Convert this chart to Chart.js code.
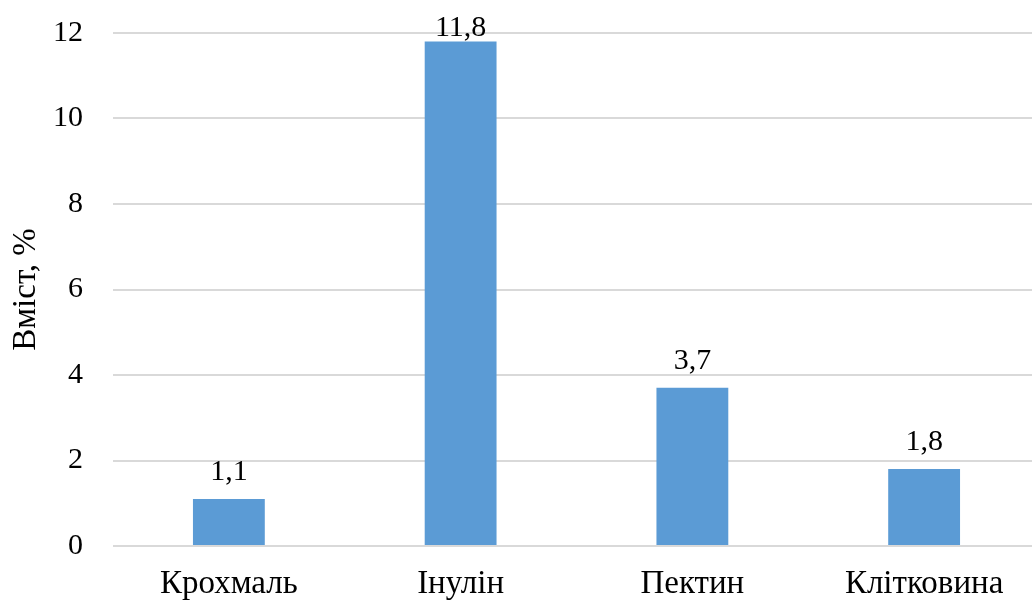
<!DOCTYPE html>
<html lang="uk">
<head>
<meta charset="utf-8">
<title>Вміст, %</title>
<script src="https://cdn.jsdelivr.net/npm/chart.js@4/dist/chart.umd.min.js"></script>
<style>
  html, body { margin: 0; padding: 0; background: #fff; overflow: hidden; }
  #wrap { position: relative; width: 1040px; height: 620px; }
</style>
</head>
<body>
<div id="wrap"><canvas id="chart" width="1040" height="620"></canvas></div>
<script>
// Carbohydrate content, %
const categories = ['Крохмаль', 'Інулін', 'Пектин', 'Клітковина'];
const values = [1.1, 11.8, 3.7, 1.8];
const yTicks = [0, 2, 4, 6, 8, 10, 12];
const yTitle = 'Вміст, %';

const FONT = '"Liberation Serif", "Times New Roman", serif';

// Value labels above each bar, with a decimal comma
const valueLabels = {
  id: 'valueLabels',
  afterDatasetsDraw(chart) {
    const ctx = chart.ctx;
    const meta = chart.getDatasetMeta(0);
    ctx.save();
    ctx.font = '30px ' + FONT;
    ctx.fillStyle = '#000';
    ctx.textAlign = 'center';
    ctx.textBaseline = 'alphabetic';
    meta.data.forEach((bar, i) => {
      const txt = values[i].toFixed(1).replace('.', ',');
      const y = Math.max(bar.y - 19, chart.chartArea.top + 3);
      ctx.fillText(txt, bar.x, y);
    });
    ctx.restore();
  }
};

new Chart(document.getElementById('chart'), {
  type: 'bar',
  data: {
    labels: categories,
    datasets: [{
      data: values,
      backgroundColor: '#5B9BD5',
      borderWidth: 0,
      categoryPercentage: 1.0,
      barPercentage: 0.31
    }]
  },
  options: {
    responsive: false,
    animation: false,
    layout: { padding: { top: 33, right: 0, bottom: 0, left: 0 } },
    plugins: { legend: { display: false }, tooltip: { enabled: false } },
    scales: {
      x: {
        grid: { display: false, drawTicks: false },
        border: { display: false },
        ticks: { color: '#000', font: { family: FONT, size: 33 }, padding: 19, maxRotation: 0 },
        afterFit(scale) { scale.height = 74; }
      },
      y: {
        min: 0,
        max: 12,
        afterBuildTicks(scale) { scale.ticks = yTicks.map(v => ({ value: v })); },
        grid: { color: '#D9D9D9', lineWidth: 2, drawTicks: false },
        border: { display: false },
        ticks: { color: '#000', font: { family: FONT, size: 30 }, padding: 30 },
        title: { display: true, text: yTitle, color: '#000', font: { family: FONT, size: 33 }, padding: { top: 7, bottom: 0 } },
        afterFit(scale) {
          scale.width = 113;
          scale.paddingTop = 0;
          scale.paddingBottom = 0;
        }
      }
    }
  },
  plugins: [valueLabels]
});
</script>
</body>
</html>
